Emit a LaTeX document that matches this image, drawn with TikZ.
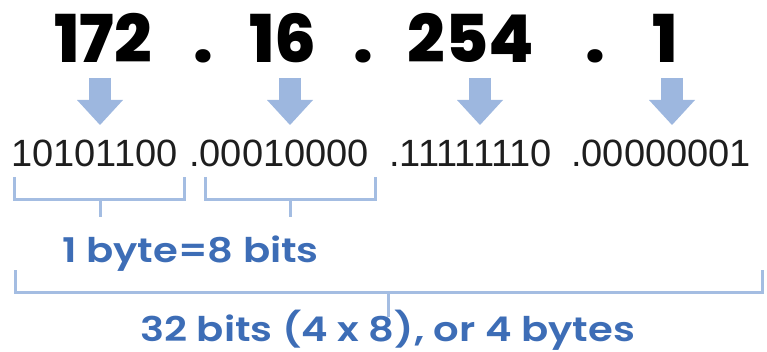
\documentclass[tikz,border=0pt]{standalone}
\usepackage{fontspec}
\usetikzlibrary{arrows.meta}
\setmainfont{Liberation Sans}
\newfontfamily\popfont{Poppins}
\newfontfamily\poplab{Poppins}[FakeStretch=1.18]
\IfFontExistsTF{Poppins ExtraBold}
  {\newfontfamily\numfont{Poppins ExtraBold}}
  {\newcommand\numfont{\popfont\bfseries}}
\IfFontExistsTF{Poppins SemiBold}
  {\newfontfamily\labfont{Poppins SemiBold}[FakeStretch=1.18]}
  {\newcommand\labfont{\poplab\bfseries}}

\definecolor{arrowblue}{HTML}{9DB7DF}
\definecolor{linkblue}{HTML}{A4BDE2}
\definecolor{textblue}{HTML}{3D6DB6}
\definecolor{bitgray}{HTML}{1E1E1E}

\tikzset{
  ipnum/.style={font=\numfont\fontsize{66}{66}\selectfont, inner sep=0pt, anchor=base},
  bits/.style={font=\fontsize{38}{38}\selectfont, text=bitgray, inner sep=0pt, anchor=base west},
  bytelabel/.style={font=\labfont\fontsize{34}{34}\selectfont, text=textblue, inner sep=0pt, anchor=base west},
  blockarrow/.style={draw=arrowblue, line width=22pt, -{Triangle[width=46pt,length=25pt,line width=0pt,fill=arrowblue]}},
  bracket/.style={draw=linkblue, line width=3pt}
}

\begin{document}
\begin{tikzpicture}[x=1pt,y=-1pt]
\useasboundingbox (0,0) rectangle (767,352);
%dotted decimal address
\node[ipnum] (n1) at (103,63) {172};
\node[ipnum] (d1) at (203,63) {.};
\node[ipnum] (n2) at (283,63) {16};
\node[ipnum] (d2) at (363,63) {.};
\node[ipnum] (n3) at (471,63) {254};
\node[ipnum] (d3) at (595,63) {.};
\node[ipnum] (n4) at (665,63) {1};
%block arrows
\foreach \x [count=\i] in {100,290,480,672}{
  \coordinate (top\i) at (\x,78);
  \coordinate (tip\i) at (\x,125);
  \draw[blockarrow] (top\i) -- (tip\i);
}
%binary octets
\node[bits] (b1) at (11,167) {10101100};
\node[bits] (b2) at (189,167) {.00010000};
\node[bits] (b3) at (389,167) {.11111110};
\node[bits] (b4) at (571,167) {.00000001};
%byte brackets
\coordinate (k1l) at (14,177);
\coordinate (k1r) at (184,177);
\coordinate (k2l) at (205,177);
\coordinate (k2r) at (375,177);
\draw[bracket] (k1l) -- ++(0,23) -| (k1r);
\draw[bracket] (k2l) -- ++(0,23) -| (k2r);
\coordinate (s1) at (100,200);
\coordinate (s2) at (290,200);
\draw[bracket] (s1) -- ++(0,17);
\draw[bracket] (s2) -- ++(0,17);
\node[bytelabel] (byte) at (62,262) {1 byte=8 bits};
%whole address bracket
\coordinate (kal) at (15,270);
\coordinate (kar) at (762,270);
\draw[bracket] (kal) -- ++(0,22) -| (kar);
\coordinate (sa) at (388,292);
\draw[bracket] (sa) -- ++(0,25);
\node[bytelabel] (total) at (140,341) {32 bits (4 x 8), or 4 bytes};
\end{tikzpicture}
\end{document}
